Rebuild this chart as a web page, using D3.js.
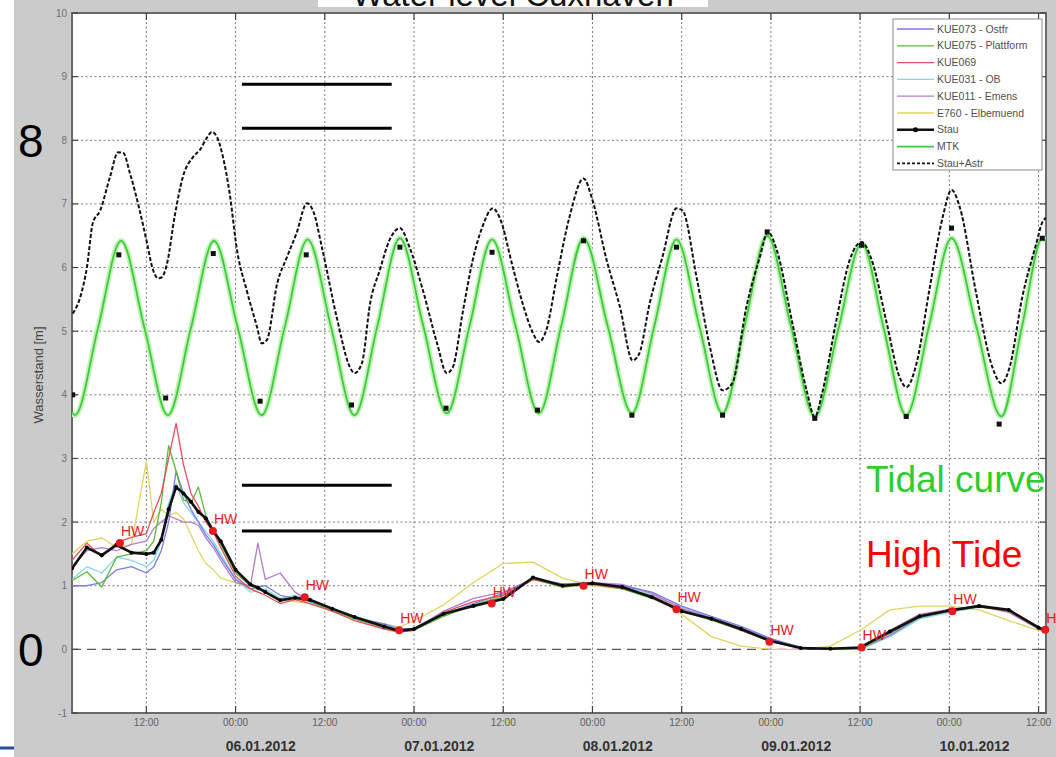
<!DOCTYPE html>
<html>
<head>
<meta charset="utf-8">
<script src="https://cdn.jsdelivr.net/npm/d3@7"></script>
<style>
  html, body { margin: 0; padding: 0; background: #fff; }
  svg { display: block; font-family: "Liberation Sans", Arial, sans-serif; }
</style>
</head>
<body>
<svg id="chart" width="1056" height="757"></svg>
<script>
// ---- data (time in hours after 05.01.2012 00:00) ----
const stationHours = [2,4,6,8,10,12,13,14,15,16,17,18,19,20,21,22,24,26,27,28,30,32,34,37,40,44,46,48,52,56,60,64,68,72,76,80,84,88,92,96,100,104,108,112,116,120,124,128,132,133];

const kue073 = [1.0,1.0,1.05,1.25,1.3,1.2,1.3,1.55,2.0,2.8,2.45,2.2,2.0,1.8,1.65,1.45,1.1,0.95,0.98,1.0,0.85,0.8,0.75,0.62,0.5,0.4,0.32,0.33,0.55,0.72,0.88,1.12,1.03,1.05,1.0,0.9,0.68,0.52,0.36,0.17,0.03,0.0,0.01,0.22,0.5,0.6,0.7,0.6,0.36,0.3];
const kue075 = [1.08,1.22,0.98,1.45,1.5,1.55,1.7,2.3,3.2,2.8,2.35,2.3,2.55,2.1,1.85,1.65,1.2,1.0,0.95,0.9,0.78,0.82,0.76,0.6,0.48,0.34,0.28,0.3,0.52,0.7,0.82,1.1,0.98,1.02,0.95,0.8,0.6,0.46,0.3,0.12,0.02,0.0,0.0,0.25,0.5,0.6,0.67,0.6,0.34,0.3];
const kue069 = [1.4,1.67,1.45,1.68,1.76,1.82,2.15,2.45,3.0,3.55,2.9,2.45,2.25,2.0,1.85,1.6,1.15,0.95,0.9,0.85,0.72,0.78,0.72,0.6,0.45,0.32,0.27,0.3,0.58,0.75,0.85,1.1,1.0,1.02,0.96,0.84,0.62,0.48,0.3,0.12,0.02,0.01,0.02,0.26,0.52,0.62,0.68,0.6,0.33,0.28];
const kue031 = [1.1,1.3,1.2,1.45,1.4,1.3,1.4,1.7,2.3,2.6,2.3,2.15,2.0,1.85,1.7,1.5,1.1,0.9,0.92,0.95,0.8,0.85,0.78,0.64,0.52,0.38,0.31,0.3,0.55,0.7,0.85,1.1,1.0,1.03,1.0,0.86,0.66,0.5,0.34,0.16,0.04,0.0,0.0,0.2,0.48,0.58,0.66,0.62,0.35,0.3];
const kue011 = [1.3,1.55,1.6,1.55,1.65,1.7,1.9,2.0,2.1,2.05,2.0,2.0,1.95,1.75,1.6,1.4,1.05,1.0,1.67,1.1,1.2,0.9,0.75,0.62,0.48,0.35,0.3,0.32,0.6,0.8,0.9,1.1,1.02,1.05,1.02,0.88,0.64,0.5,0.33,0.15,0.03,0.02,0.03,0.3,0.55,0.63,0.68,0.58,0.32,0.28];
const e760   = [1.5,1.7,1.75,1.6,1.65,2.95,2.0,2.2,2.1,2.15,2.05,1.8,1.55,1.35,1.25,1.12,1.05,0.95,0.95,0.9,0.8,0.75,0.72,0.6,0.5,0.4,0.35,0.45,0.7,1.05,1.35,1.37,1.12,1.0,0.95,0.85,0.55,0.2,0.05,0.0,0.0,0.05,0.3,0.62,0.68,0.68,0.62,0.45,0.3,0.27];
const stau   = [1.27,1.6,1.48,1.64,1.52,1.5,1.52,1.72,2.2,2.55,2.45,2.32,2.16,2.06,1.86,1.7,1.25,1.02,0.97,0.9,0.77,0.81,0.78,0.64,0.51,0.36,0.29,0.32,0.56,0.68,0.79,1.13,1.0,1.04,0.98,0.82,0.6,0.48,0.32,0.13,0.02,0.01,0.03,0.28,0.52,0.61,0.68,0.62,0.34,0.3];

// high water times and surge at high water
const hwHours  = [8.45,20.95,33.3,46.0,58.45,70.8,83.3,95.8,108.2,120.4,132.9];
const hwValues = [1.67,1.86,0.82,0.30,0.72,1.0,0.63,0.12,0.03,0.6,0.31];

// astronomical tide (MTK)
const mtkHours  = [2.0,2.4,5.5,8.6,11.75,14.9,18.0,21.1,24.3,27.5,30.6,33.7,36.85,40.0,43.05,46.1,49.25,52.4,55.45,58.5,61.65,64.8,67.8,70.8,74.05,77.3,80.3,83.3,86.4,89.5,92.5,95.5,98.7,101.9,105.05,108.2,111.2,114.2,117.25,120.3,123.65,127.0,129.75,132.5,133.0];
const mtkValues = [3.72,3.68,5.05,6.42,5.05,3.68,5.05,6.42,5.05,3.68,5.06,6.44,5.06,3.68,5.07,6.46,5.08,3.71,5.07,6.44,5.08,3.71,5.08,6.46,5.08,3.71,5.07,6.44,5.07,3.71,5.1,6.5,5.08,3.66,5.02,6.38,5.03,3.68,5.07,6.46,5.06,3.66,5.06,6.46,6.42];

// surge + astronomical tide
const totalHours  = [2.1,3.1,4.0,4.8,5.8,7.1,8.2,8.9,9.8,11.1,12.1,12.8,13.6,14.1,14.8,15.8,16.9,18.3,19.2,20.2,20.8,21.5,22.3,23.2,24.2,25.5,26.9,27.5,28.2,29.6,30.9,32.2,33.6,34.4,35.7,37.6,39.4,40.0,41.0,42.1,43.4,44.7,46.1,47.4,49.2,51.1,52.4,53.2,54.6,55.9,57.2,58.6,59.5,61.3,62.6,64.0,64.8,65.8,67.2,68.9,70.8,72.0,73.9,75.7,77.4,78.3,79.7,81.4,83.3,84.1,86.0,87.8,89.5,90.8,92.7,94.5,95.6,96.8,98.9,100.8,101.9,102.9,104.8,106.6,108.2,109.7,111.5,113.3,114.2,115.6,117.3,119.1,120.3,121.4,123.6,125.8,127.0,128.1,129.8,131.7,132.5,133.0];
const totalValues = [5.28,5.53,6.0,6.7,6.9,7.42,7.81,7.8,7.48,6.9,6.38,6.0,5.83,5.85,6.07,6.8,7.42,7.74,7.85,8.05,8.13,8.05,7.74,7.17,6.27,5.64,5.06,4.81,4.86,5.75,6.16,6.54,7.01,6.9,6.27,5.22,4.43,4.34,4.5,5.44,5.96,6.43,6.62,6.32,5.64,4.81,4.34,4.43,5.33,6.12,6.64,6.93,6.79,6.0,5.44,4.97,4.83,5.02,5.85,6.79,7.4,7.06,6.12,5.38,4.54,4.65,5.44,6.16,6.93,6.9,5.85,4.75,4.07,4.18,5.38,6.16,6.56,6.27,5.12,4.07,3.65,4.03,5.17,6.12,6.4,6.07,5.17,4.28,4.12,4.5,5.64,6.79,7.22,6.95,5.6,4.43,4.18,4.43,5.53,6.38,6.71,6.78];

// observed high/low water levels
const tideMarkHours  = [2.1,8.3,14.6,21.0,27.3,33.5,39.6,46.1,52.3,58.5,64.6,70.8,77.3,83.3,89.5,95.5,101.9,108.2,114.2,120.3,126.7,132.5];
const tideMarkValues = [4.0,6.2,3.95,6.22,3.9,6.2,3.84,6.32,3.79,6.24,3.76,6.42,3.68,6.32,3.68,6.56,3.63,6.35,3.66,6.62,3.54,6.46];

const seriesNames = ["KUE073 - Ostfr","KUE075 - Plattform","KUE069","KUE031 - OB","KUE011 - Emens","E760 - Elbemuend","Stau","MTK","Stau+Astr"];
const yTickValues = [-1,0,1,2,3,4,5,6,7,8,9,10];
const dayLabels = ["06.01.2012","07.01.2012","08.01.2012","09.01.2012","10.01.2012"];
const overlayNumbers = [8, 0];
const bandLevels = [8.88, 8.19, 2.58, 1.86];

// ---- layout ----
const svg = d3.select("#chart");
const plot = { left: 72, right: 1046, top: 13, bottom: 713 };
const t0 = Date.UTC(2012, 0, 5);
const toDate = h => new Date(t0 + h * 3600e3);

const x = d3.scaleUtc().domain([toDate(2), toDate(133)]).range([plot.left, plot.right]);
const y = d3.scaleLinear().domain([-1, 10]).range([plot.bottom, plot.top]);

const stationColors = ["#7b7be6", "#5cb838", "#e2505e", "#86d6e4", "#b47ccc", "#e2d463"];

// ---- background ----
svg.append("rect").attr("width", 1056).attr("height", 757).attr("fill", "#fff");
svg.append("rect").attr("x", 14).attr("y", 0).attr("width", 1042).attr("height", 757).attr("fill", "#cbcbcb");
svg.append("rect").attr("x", 318).attr("y", 0).attr("width", 390).attr("height", 7).attr("fill", "#fff");
svg.append("line").attr("x1", 0).attr("x2", 14).attr("y1", 748).attr("y2", 748)
  .attr("stroke", "#2c4d9e").attr("stroke-width", 3);

svg.append("rect").attr("x", plot.left).attr("y", plot.top)
  .attr("width", plot.right - plot.left).attr("height", plot.bottom - plot.top).attr("fill", "#fff");

svg.append("text").attr("x", 513).attr("y", 6).attr("text-anchor", "middle")
  .attr("font-size", 33).attr("fill", "#111").text("Water level Cuxhaven");

// ---- grid ----
const xTicks = d3.utcHour.every(12).range(toDate(12), toDate(133));
const grid = svg.append("g");
grid.selectAll(".vg").data(xTicks).join("line")
  .attr("x1", d => x(d)).attr("x2", d => x(d))
  .attr("y1", plot.top).attr("y2", plot.bottom)
  .attr("stroke", "#7a7a7a").attr("stroke-width", 1).attr("stroke-dasharray", "2,2.5");
grid.selectAll(".hg").data(yTickValues.filter(v => v > -1 && v < 10 && v !== 0)).join("line")
  .attr("x1", plot.left).attr("x2", plot.right)
  .attr("y1", d => y(d)).attr("y2", d => y(d))
  .attr("stroke", "#7a7a7a").attr("stroke-width", 1).attr("stroke-dasharray", "2,2.5");
grid.append("line")
  .attr("x1", plot.left).attr("x2", plot.right).attr("y1", y(0)).attr("y2", y(0))
  .attr("stroke", "#5a5a5a").attr("stroke-width", 1.3).attr("stroke-dasharray", "9,6");

// ---- frame & ticks ----
svg.append("rect").attr("x", plot.left).attr("y", plot.top)
  .attr("width", plot.right - plot.left).attr("height", plot.bottom - plot.top)
  .attr("fill", "none").attr("stroke", "#6a6a6a").attr("stroke-width", 2);
const ticks = svg.append("g").attr("stroke", "#444").attr("stroke-width", 1.2);
xTicks.forEach(d => {
  ticks.append("line").attr("x1", x(d)).attr("x2", x(d)).attr("y1", plot.bottom).attr("y2", plot.bottom - 7);
  ticks.append("line").attr("x1", x(d)).attr("x2", x(d)).attr("y1", plot.top).attr("y2", plot.top + 7);
});
yTickValues.forEach(v => {
  ticks.append("line").attr("x1", plot.left).attr("x2", plot.left + 6).attr("y1", y(v)).attr("y2", y(v));
  ticks.append("line").attr("x1", plot.right).attr("x2", plot.right - 6).attr("y1", y(v)).attr("y2", y(v));
});

// tick labels
svg.append("g").selectAll("text").data(yTickValues).join("text")
  .attr("x", plot.left - 5).attr("y", d => y(d)).attr("dy", "0.35em")
  .attr("text-anchor", "end").attr("font-size", 10).attr("fill", "#707070").text(d => d);
svg.append("g").selectAll("text").data(xTicks).join("text")
  .attr("x", d => x(d)).attr("y", plot.bottom + 13)
  .attr("text-anchor", "middle").attr("font-size", 10).attr("fill", "#606060")
  .text(d3.utcFormat("%H:%M"));
svg.append("g").selectAll("text").data(dayLabels).join("text")
  .attr("x", (d, i) => x(toDate(24 * (i + 1) + 3.4))).attr("y", 751)
  .attr("text-anchor", "middle").attr("font-size", 14).attr("font-weight", "bold").attr("fill", "#333")
  .text(d => d);
svg.append("text").attr("transform", `translate(43,${(plot.top + plot.bottom) / 2 + 12}) rotate(-90)`)
  .attr("text-anchor", "middle").attr("font-size", 13).attr("fill", "#444").text("Wasserstand [m]");

// ---- data lines ----
svg.append("clipPath").attr("id", "plotClip").append("rect")
  .attr("x", plot.left).attr("y", plot.top)
  .attr("width", plot.right - plot.left).attr("height", plot.bottom - plot.top);
const data = svg.append("g").attr("clip-path", "url(#plotClip)");

const pts = (hours, vals) => hours.map((h, i) => [toDate(h), vals[i]]);
const lin = d3.line().x(d => x(d[0])).y(d => y(d[1]));
const smooth = d3.line().x(d => x(d[0])).y(d => y(d[1])).curve(d3.curveMonotoneX);

const stations = [kue073, kue075, kue069, kue031, kue011, e760];
const drawOrder = [5, 3, 4, 0, 1, 2];
drawOrder.forEach(i => {
  data.append("path").attr("d", lin(pts(stationHours, stations[i])))
    .attr("fill", "none").attr("stroke", stationColors[i]).attr("stroke-width", 1.3)
    .attr("stroke-linejoin", "round");
});

// surge
data.append("path").attr("d", lin(pts(stationHours, stau)))
  .attr("fill", "none").attr("stroke", "#111").attr("stroke-width", 2.6).attr("stroke-linejoin", "round");
data.append("g").selectAll("circle").data(pts(stationHours, stau)).join("circle")
  .attr("cx", d => x(d[0])).attr("cy", d => y(d[1])).attr("r", 2).attr("fill", "#000");

// MTK tide curve
const mtkPts = pts(mtkHours, mtkValues);
data.append("path").attr("d", smooth(mtkPts))
  .attr("fill", "none").attr("stroke", "#c2f2b8").attr("stroke-width", 5.5);
data.append("path").attr("d", smooth(mtkPts))
  .attr("fill", "none").attr("stroke", "#3ccb3c").attr("stroke-width", 1.8);

// surge + tide
data.append("path").attr("d", smooth(pts(totalHours, totalValues)))
  .attr("fill", "none").attr("stroke", "#111").attr("stroke-width", 2).attr("stroke-dasharray", "4,2");

// observed high/low water
data.append("g").selectAll("rect").data(pts(tideMarkHours, tideMarkValues)).join("rect")
  .attr("x", d => x(d[0]) - 2.5).attr("y", d => y(d[1]) - 2.5)
  .attr("width", 5).attr("height", 5).attr("fill", "#111");

// high water markers
const hw = svg.append("g");
hw.selectAll("circle").data(pts(hwHours, hwValues)).join("circle")
  .attr("cx", d => x(d[0])).attr("cy", d => y(d[1])).attr("r", 4).attr("fill", "#e8191f");
hw.selectAll("text").data(pts(hwHours, hwValues)).join("text")
  .attr("x", d => x(d[0]) + 1).attr("y", d => y(d[1]) - 7)
  .attr("font-size", 14).attr("fill", "#e8191f").text("HW");

// ---- legend ----
const lg = svg.append("g").attr("transform", "translate(893,19)");
lg.append("rect").attr("width", 149).attr("height", 151).attr("fill", "#fff")
  .attr("stroke", "#8a8a8a").attr("stroke-width", 1);
const legendStyle = [
  ...stationColors.map(c => ({ color: c, width: 1.3, dash: null, dot: false })),
  { color: "#111", width: 2.4, dash: null, dot: true },
  { color: "#3ccb3c", width: 1.8, dash: null, dot: false },
  { color: "#111", width: 1.6, dash: "3,2", dot: false }
];
seriesNames.forEach((name, i) => {
  const yy = 10 + i * 16.8;
  const st = legendStyle[i];
  lg.append("line").attr("x1", 4).attr("x2", 41).attr("y1", yy).attr("y2", yy)
    .attr("stroke", st.color).attr("stroke-width", st.width).attr("stroke-dasharray", st.dash);
  if (st.dot) lg.append("circle").attr("cx", 22.5).attr("cy", yy).attr("r", 2.5).attr("fill", "#000");
  lg.append("text").attr("x", 44).attr("y", yy).attr("dy", "0.35em")
    .attr("font-size", 10.5).attr("fill", "#505050").text(name);
});

// ---- annotations ----
svg.append("g").selectAll("line").data(bandLevels).join("line")
  .attr("x1", x(toDate(24.85))).attr("x2", x(toDate(45.0)))
  .attr("y1", d => y(d)).attr("y2", d => y(d))
  .attr("stroke", "#000").attr("stroke-width", 3);

svg.append("g").selectAll("text").data(overlayNumbers).join("text")
  .attr("x", 18).attr("y", d => y(d) + 16.5)
  .attr("font-size", 46).attr("fill", "#000").text(d => d);

svg.append("text").attr("x", 866).attr("y", 492)
  .attr("font-size", 37).attr("fill", "#2fcc2f").text("Tidal curve");
svg.append("text").attr("x", 866).attr("y", 567)
  .attr("font-size", 37).attr("fill", "#ff0000").text("High Tide");
</script>
</body>
</html>
